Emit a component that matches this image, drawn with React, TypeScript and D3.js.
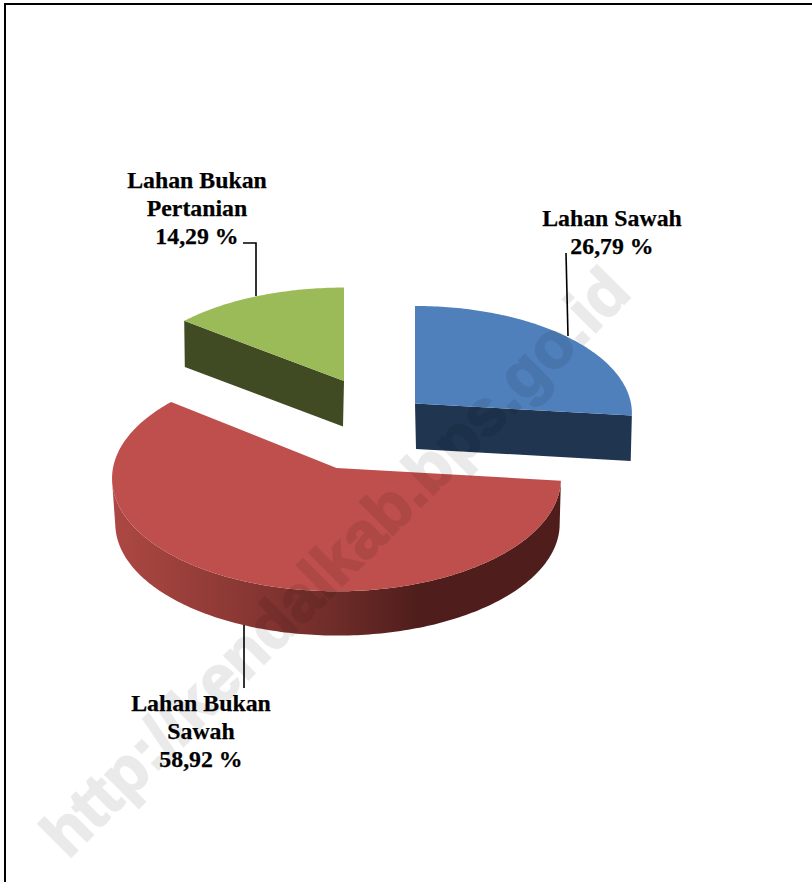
import React from "react";
import * as d3 from "d3";

const categories = ["Lahan Sawah", "Lahan Bukan Sawah", "Lahan Bukan Pertanian"];
const values = [26.79, 58.92, 14.29];
const valueLabels = ["26,79 %", "58,92 %", "14,29 %"];
const labelLines = [["Lahan Sawah"], ["Lahan Bukan", "Sawah"], ["Lahan Bukan", "Pertanian"]];

const W = 812, H = 882;
const topColors = ["#4F80BC", "#BE4F4C", "#9BBB59"];
const sideColors = ["#1F3550", "url(#redSide)", "#404B23"];
// per-slice placement of the exploded wedge: apex, radii, perspective
const layout = [
  { cx: 415, cy: 403.5, rx: 216, ry: 106.5, p: 0.0916, dx: 1 },
  { cx: 336.5, cy: 468, rx: 223.5, ry: 112, p: 0.0916, dx: 1 },
  { cx: 344, cy: 381, rx: 216, ry: 102, p: 0.0916, dx: -1 },
];
const DEPTH = 45.5;
const labelPos = [
  { x: 612, y: 226 },
  { x: 201, y: 711 },
  { x: 197, y: 188 },
];
const leaders: [number, number][][] = [
  [[566, 253], [568, 336]],
  [[244, 625], [244, 688]],
  [[243, 243], [256, 243], [256, 296]],
];

const pie = d3.pie<number>().sort(null).startAngle(0).endAngle(2 * Math.PI);
const line = d3.line<[number, number]>();

export default function App() {
  const arcs = pie(values);
  const project = (i: number, a: number, r: number, bottom: boolean): [number, number] => {
    const l = layout[i];
    const s = Math.sin(a) * r, v = Math.cos(a) * r;
    const f = 1 + l.p * v;
    const k = bottom ? 0.99 : 1;
    return [
      l.cx + (bottom ? l.dx : 0) + (k * l.rx * s) / f,
      l.cy + (bottom ? DEPTH : 0) - (k * l.ry * v) / f,
    ];
  };
  const rim = (i: number, bottom: boolean) => {
    const a = arcs[i];
    const n = Math.ceil((a.endAngle - a.startAngle) * 60);
    return d3.range(n + 1).map((j) =>
      project(i, a.startAngle + ((a.endAngle - a.startAngle) * j) / n, 1, bottom)
    );
  };
  const topPath = (i: number) => line([project(i, 0, 0, false), ...rim(i, false)]) + "Z";
  // only faces turned towards the viewer; all wound alike and merged into one
  // path so that the gradient shows no seams between segments
  const sidePath = (i: number) => {
    const t = [project(i, 0, 0, false), ...rim(i, false)];
    const b = [project(i, 0, 0, true), ...rim(i, true)];
    const closedT = [...t, t[0]];
    const closedB = [...b, b[0]];
    let d = "";
    for (let j = 0; j < closedT.length - 1; j++) {
      if (closedT[j + 1][0] >= closedT[j][0]) continue;
      const q: [number, number][] = [closedT[j], closedT[j + 1], closedB[j + 1], closedB[j]];
      if (d3.polygonArea(q) < 0) q.reverse();
      d += line(q) + "Z";
    }
    return d;
  };
  const order = [0, 2, 1];
  return (
    <svg
      width={W}
      height={H}
      viewBox={`0 0 ${W} ${H}`}
      style={{ position: "absolute", left: 0, top: 0, display: "block", background: "#fff" }}
    >
      <defs>
        <linearGradient id="redSide" gradientUnits="userSpaceOnUse" x1={112} x2={560} y1={0} y2={0}>
          <stop offset="0" stopColor="#AD4843" />
          <stop offset="0.3" stopColor="#893733" />
          <stop offset="0.5" stopColor="#6E2C29" />
          <stop offset="0.68" stopColor="#4F1E1C" />
          <stop offset="1" stopColor="#4F1E1C" />
        </linearGradient>
      </defs>
      <path d={`M5,${H}V4H${W}`} fill="none" stroke="#000" strokeWidth={2} />
      {order.map((i) => (
        <g key={categories[i]}>
          <path d={sidePath(i)} fill={sideColors[i]} />
          <path d={topPath(i)} fill={topColors[i]} />
        </g>
      ))}
      {leaders.map((pts, i) => (
        <path key={i} d={line(pts) ?? ""} fill="none" stroke="#000" strokeWidth={1.6} />
      ))}
      {categories.map((c, i) => (
        <text
          key={c}
          textAnchor="middle"
          fontFamily="'Liberation Serif', serif"
          fontWeight="bold"
          fontSize={23.8}
          fill="#000"
          stroke="#000"
          strokeWidth={0.25}
        >
          {[...labelLines[i], valueLabels[i]].map((t, j) => (
            <tspan key={j} x={labelPos[i].x} y={labelPos[i].y + j * 28}>
              {t}
            </tspan>
          ))}
        </text>
      ))}
      <text
        transform="translate(68,860) rotate(-45)"
        fontFamily="'Liberation Sans', sans-serif"
        fontWeight="bold"
        fontSize={64.5}
        fill="#000"
        stroke="#000"
        strokeWidth={2}
        opacity={0.08}
      >
        http://kendalkab.bps.go.id
      </text>
    </svg>
  );
}
